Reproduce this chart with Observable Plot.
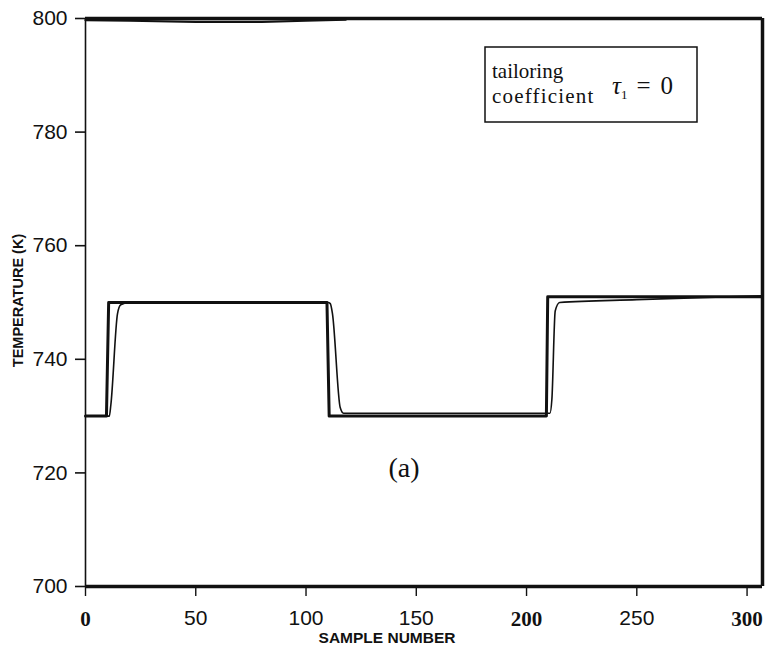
<!DOCTYPE html>
<html>
<head>
<meta charset="utf-8">
<script src="https://cdn.jsdelivr.net/npm/d3@7"></script>
<script src="https://cdn.jsdelivr.net/npm/@observablehq/plot@0.6"></script>
<style>
  html, body { margin: 0; padding: 0; background: #fff; }
  #chart { width: 768px; height: 654px; }
</style>
</head>
<body>
<div id="chart"></div>
<script>
// ---- data ----
const setpointSample = [0, 9.5, 10.5, 109.5, 110.5, 209, 209.6, 307];
const setpointTemp   = [730, 730, 750, 750, 730, 730, 751, 751];

const responseSample = [0, 10.8, 11.5, 14.5, 16, 20, 110, 111, 112, 115.5, 117, 210.6, 211.5, 213, 215, 250, 307];
const responseTemp   = [730, 730, 732, 748, 749.6, 750, 750, 749.8, 748, 731.5, 730.5, 730.5, 733, 748.5, 750, 750.5, 751.2];

const upperSample = [0, 20, 50, 80, 100, 118];
const upperTemp   = [799.7, 799.6, 799.4, 799.4, 799.6, 799.8];

const yTicks = [700, 720, 740, 760, 780, 800];
const xTicksSerif = [0, 200, 300];
const xTicksSans = [50, 100, 150, 250];
const xDomain = [0, 307];
const yDomain = [700, 800];

const xLabel = "SAMPLE NUMBER";
const yLabel = "TEMPERATURE (K)";
const boxLine1 = "tailoring";
const boxLine2 = "coefficient";
const panelLabel = "(a)";

const setpoint = setpointSample.map((s, i) => ({s, t: setpointTemp[i]}));
const response = responseSample.map((s, i) => ({s, t: responseTemp[i]}));
const upper = upperSample.map((s, i) => ({s, t: upperTemp[i]}));

const plot = Plot.plot({
  width: 768,
  height: 654,
  marginLeft: 85,
  marginRight: 6,
  marginTop: 18,
  marginBottom: 68,
  x: {domain: xDomain},
  y: {domain: yDomain},
  style: {background: "#fff", color: "#111", fontFamily: "Liberation Sans, Arial, sans-serif"},
  marks: [
    Plot.axisY(yTicks, {tickSize: 10, tickPadding: 8, fontSize: 21, strokeWidth: 1.6, label: null}),
    Plot.axisX([...xTicksSerif, ...xTicksSans], {tickSize: 10, strokeWidth: 1.4, tickFormat: () => "", label: null}),
    Plot.axisX(xTicksSerif, {tickSize: 0, tickPadding: 25, fontSize: 21, fontWeight: "bold", fontFamily: "Liberation Serif, serif", label: null}),
    Plot.axisX(xTicksSans, {tickSize: 0, tickPadding: 24, fontSize: 21, label: null}),
    Plot.ruleX([xDomain[0]], {strokeWidth: 1.6, stroke: "#111"}),
    Plot.ruleX([xDomain[1]], {strokeWidth: 3.5, stroke: "#111"}),
    Plot.ruleY([yDomain[0]], {strokeWidth: 3.5, stroke: "#111"}),
    Plot.ruleY([yDomain[1]], {strokeWidth: 3.5, stroke: "#111"}),
    Plot.line(upper, {x: "s", y: "t", stroke: "#111", strokeWidth: 2.2}),
    Plot.line(setpoint, {x: "s", y: "t", stroke: "#111", strokeWidth: 3}),
    Plot.line(response, {x: "s", y: "t", stroke: "#111", strokeWidth: 1.6, curve: "monotone-x"}),
    Plot.text([xLabel], {frameAnchor: "bottom", dx: -37, dy: 56, fontSize: 15.5, fontWeight: "bold", fill: "#111"}),
    Plot.text([yLabel], {frameAnchor: "left", textAnchor: "middle", dx: -67, dy: -2, rotate: -90, fontSize: 14.5, fontWeight: "bold", fill: "#111"})
  ]
});

document.getElementById("chart").appendChild(plot);

// annotations (box legend and panel label)
const svg = d3.select(plot);
const g = svg.append("g").attr("font-family", "Liberation Serif, 'Times New Roman', serif")
  .attr("fill", "#111").attr("text-anchor", "start");
g.append("rect").attr("x", 485).attr("y", 47).attr("width", 212).attr("height", 75)
  .attr("fill", "#fff").attr("stroke", "#111").attr("stroke-width", 1.5);
g.append("text").attr("x", 492).attr("y", 78).attr("font-size", 21).text(boxLine1);
g.append("text").attr("x", 492).attr("y", 103).attr("font-size", 21).attr("letter-spacing", 1.2).text(boxLine2);
const tau = g.append("text").attr("x", 612).attr("y", 94).attr("font-size", 25);
tau.append("tspan").attr("font-style", "italic").text("τ");
tau.append("tspan").attr("font-size", 13).attr("dy", 5).text("1");
tau.append("tspan").attr("dy", -5).attr("dx", 9).text("=");
tau.append("tspan").attr("dx", 10).text("0");
g.append("text").attr("x", 404).attr("y", 477).attr("font-size", 28).attr("text-anchor", "middle").text(panelLabel);
</script>
</body>
</html>
